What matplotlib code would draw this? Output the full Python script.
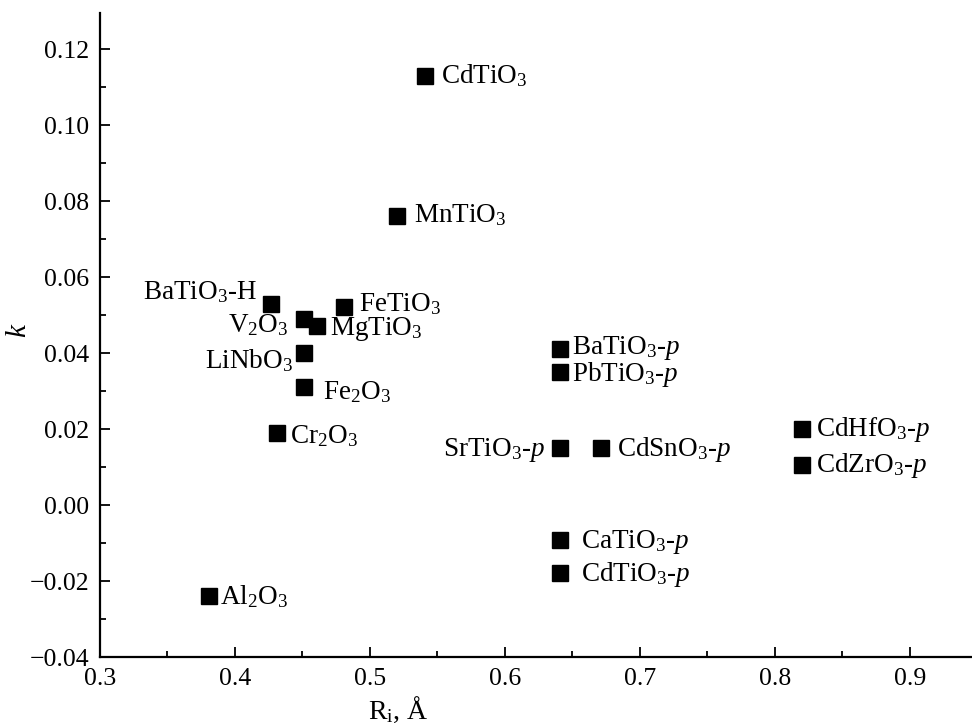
import matplotlib
matplotlib.use('Agg')
import matplotlib.pyplot as plt
from matplotlib.ticker import MultipleLocator

plt.rcParams['font.family'] = ['Liberation Serif', 'DejaVu Serif']
plt.rcParams['mathtext.fontset'] = 'custom'
plt.rcParams['mathtext.rm'] = 'Liberation Serif'
plt.rcParams['mathtext.it'] = 'Liberation Serif:italic'

# compounds, ionic radius R_i (A) and k
names = [r'CdTiO$_3$', r'MnTiO$_3$', r'BaTiO$_3$-H', r'FeTiO$_3$', r'V$_2$O$_3$',
         r'MgTiO$_3$', r'LiNbO$_3$', r'Fe$_2$O$_3$', r'Cr$_2$O$_3$', r'Al$_2$O$_3$',
         r'BaTiO$_3$-$p$', r'PbTiO$_3$-$p$', r'SrTiO$_3$-$p$', r'CdSnO$_3$-$p$',
         r'CaTiO$_3$-$p$', r'CdTiO$_3$-$p$', r'CdHfO$_3$-$p$', r'CdZrO$_3$-$p$']
r_i = [0.541, 0.520, 0.427, 0.481, 0.451, 0.461, 0.451, 0.451, 0.431, 0.381,
       0.641, 0.641, 0.641, 0.671, 0.641, 0.641, 0.820, 0.820]
k = [0.113, 0.076, 0.053, 0.052, 0.049, 0.047, 0.040, 0.031, 0.019, -0.024,
     0.041, 0.035, 0.015, 0.015, -0.0092, -0.018, 0.020, 0.0105]

# label offsets in pixels (dx, dy, ha)
offsets = [(16, -7, 'left'), (17, -6, 'left'), (-15, 5, 'right'), (15, -4, 'left'),
           (-15, -13, 'right'), (13, -9, 'left'), (-11, -15, 'right'), (19, -12, 'left'),
           (13, -10, 'left'), (11, -8, 'left'), (12, -5, 'left'), (12, -9, 'left'),
           (-15, -8, 'right'), (16, -8, 'left'), (21, -8, 'left'), (21, -8, 'left'),
           (14, -7, 'left'), (14, -7, 'left')]

fig = plt.figure(figsize=(9.72, 7.23), dpi=100)
ax = fig.add_axes([100 / 972, 66 / 723, 872 / 972, 644 / 723])

ax.plot(r_i, k, 's', color='black', markersize=11, clip_on=False)

for name, x, y, (dx, dy, ha) in zip(names, r_i, k, offsets):
    ax.annotate(name, (x, y), xytext=(dx, dy), textcoords='offset pixels',
                ha=ha, va='baseline', fontsize=19.5)

ax.set_xlim(0.3, 0.946)
ax.set_ylim(-0.04, 0.1295)
ax.xaxis.set_major_locator(MultipleLocator(0.1))
ax.xaxis.set_minor_locator(MultipleLocator(0.05))
ax.yaxis.set_major_locator(MultipleLocator(0.02))
ax.yaxis.set_minor_locator(MultipleLocator(0.01))
ax.xaxis.set_major_formatter(plt.FuncFormatter(lambda v, p: f'{v:.1f}'))
ax.yaxis.set_major_formatter(plt.FuncFormatter(
    lambda v, p: f'{v:.2f}'.replace('-', '\u2212')))

ax.spines['top'].set_visible(False)
ax.spines['right'].set_visible(False)
ax.spines['left'].set_linewidth(1.6)
ax.spines['bottom'].set_linewidth(1.6)
ax.tick_params(which='major', direction='in', length=7, width=1.3, labelsize=18.5, pad=8)
ax.tick_params(which='minor', direction='in', length=4, width=1.3)

ax.set_xlabel(r'R$_\mathrm{i}$, Å', fontsize=20)
ax.xaxis.set_label_coords(0.342, -0.058)
ax.set_ylabel(r'$k$', fontsize=21)
ax.yaxis.set_label_coords(-0.078, 0.508)

fig.savefig('out.png', dpi=100)
